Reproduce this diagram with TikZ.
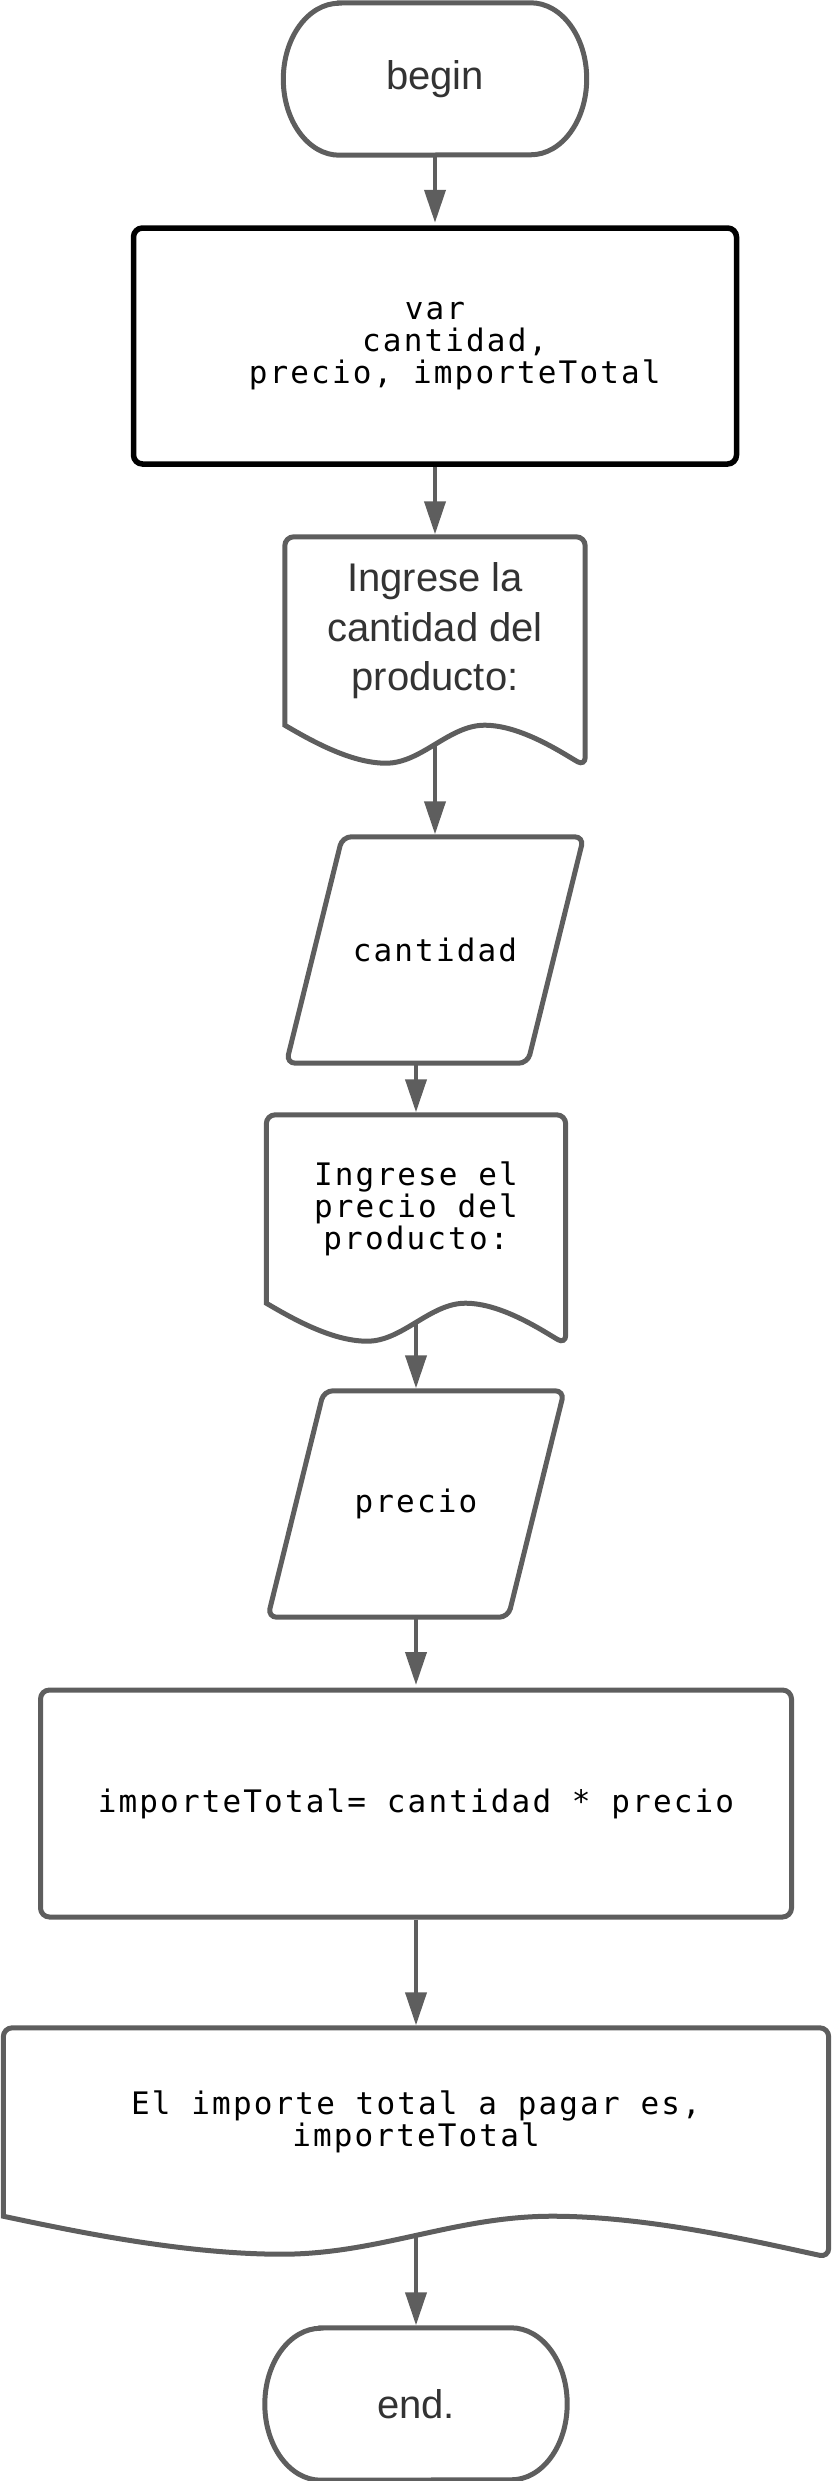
\documentclass[tikz,border=0pt]{standalone}
\usepackage{fontspec}
\setmainfont{Liberation Sans}
\newfontfamily\codefont[LetterSpace=6.9]{DejaVu Sans Mono}
\usetikzlibrary{arrows.meta,calc}
\definecolor{linegray}{RGB}{94,94,94}
\definecolor{textgray}{RGB}{51,51,51}

\newcommand{\termshape}[1]{%
  \draw[outline] ([xshift=56pt]#1.north west) -- ([xshift=-56pt]#1.north east)
    arc[start angle=90, end angle=-90, x radius=56pt, y radius=76pt]
    -- ([xshift=56pt]#1.south west)
    arc[start angle=270, end angle=90, x radius=56pt, y radius=76pt] -- cycle;}
\newcommand{\ioshape}[1]{%
  \draw[outline, rounded corners=9pt] ([xshift=56pt]#1.north west) -- (#1.north east)
    -- ([xshift=-56pt]#1.south east) -- (#1.south west) -- cycle;}
\newcommand{\docshape}[1]{%
  \draw[outline] let \p1=(#1.south west), \p2=(#1.north east), \n1={\x2-\x1} in
    (\x1,\y1) [rounded corners=9pt] -- (\x1,\y2) -- (\x2,\y2) -- (\x2,\y1-41) [sharp corners]
    .. controls (\x1+0.92*\n1,\y1-27) and (\x1+0.785*\n1,\y1) .. (\x1+0.665*\n1,\y1)
    .. controls (\x1+0.547*\n1,\y1) and (\x1+0.455*\n1,\y1-38) .. (\x1+0.337*\n1,\y1-38)
    .. controls (\x1+0.217*\n1,\y1-38) and (\x1+0.08*\n1,\y1-14) .. (\x1,\y1) -- cycle;}

\begin{document}
\begin{tikzpicture}[x=1pt, y=1pt,
    box/.style={shape=rectangle, inner sep=0pt, align=center},
    sanstext/.style={font=\fontsize{40}{49.5}\selectfont, text=textgray},
    codetext/.style={font=\fontsize{31}{32}\codefont, text=black},
    outline/.style={draw=linegray, line width=5pt},
    flow/.style={draw=linegray, line width=4pt, shorten >=2.5pt, -{Triangle[length=33pt,width=21pt]}}]
    \useasboundingbox (0,0) rectangle (831,-2481);
    \node[box, sanstext, minimum width=303pt, minimum height=152pt] (begin) at (435,-79) {begin};
    \node[box, codetext, minimum width=603pt, minimum height=236pt, draw=black, line width=5.5pt, rounded corners=9pt] (vars) at (435,-346)
        {var\\\hphantom{xx}cantidad,\\\hphantom{xx}precio, importeTotal};
    \node[box, sanstext, minimum width=300pt, minimum height=188pt] (doc1) at (435,-631)
        {Ingrese la\\cantidad del\\producto:};
    \node[box, codetext, minimum width=297pt, minimum height=226pt] (cant) at (435,-950) {cantidad};
    \node[box, codetext, minimum width=299pt, minimum height=188pt] (doc2) at (416,-1209)
        {Ingrese el\\precio del\\producto:};
    \node[box, codetext, minimum width=296pt, minimum height=226pt] (prec) at (416,-1504) {precio};
    \node[box, codetext, minimum width=751pt, minimum height=227pt, outline, rounded corners=9pt] (calc) at (416,-1803.5)
        {importeTotal= cantidad * precio};
    \node[box, codetext, minimum width=825pt, minimum height=188pt] (doc3) at (416,-2122)
        {El importe total a pagar es,\\importeTotal};
    \node[box, sanstext, minimum width=302pt, minimum height=152pt] (end) at (416,-2404) {end.};

    \termshape{begin}
    \docshape{doc1}
    \ioshape{cant}
    \docshape{doc2}
    \ioshape{prec}
    \docshape{doc3}
    \termshape{end}

    \coordinate (doc1w) at ([yshift=-19pt]doc1.south);
    \coordinate (doc2w) at ([yshift=-19pt]doc2.south);
    \coordinate (doc3w) at ([yshift=-19pt]doc3.south);

    \draw[flow] (begin) -- (vars);
    \draw[flow] (vars) -- (doc1);
    \draw[flow] (doc1w) -- (cant);
    \draw[flow] (cant.south -| doc2.north) -- (doc2.north);
    \draw[flow] (doc2w) -- (prec);
    \draw[flow] (prec) -- (calc);
    \draw[flow] (calc) -- (doc3);
    \draw[flow] (doc3w) -- (end);
\end{tikzpicture}
\end{document}
